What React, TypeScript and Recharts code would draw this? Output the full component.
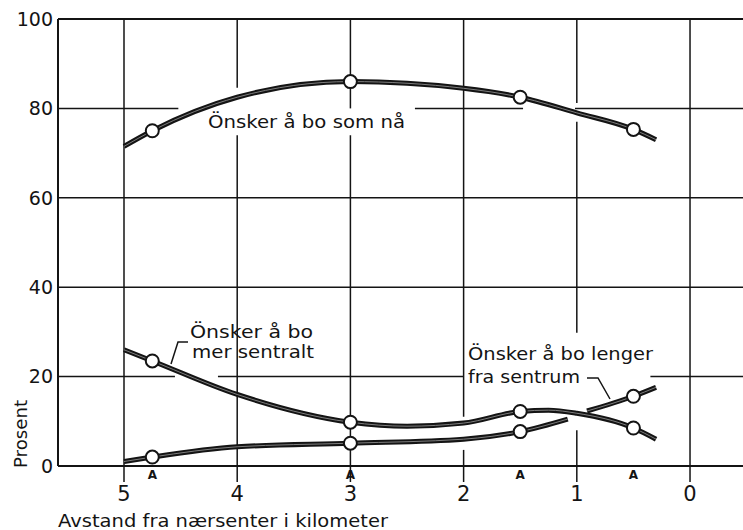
import React from 'react';
import {
  ComposedChart,
  Line,
  Scatter,
  XAxis,
  YAxis,
  ReferenceLine,
} from 'recharts';

// x axis runs from 5 km (left) to 0 km (right)
const X_MIN = -0.468;
const X_MAX = 5.583;
const KM_TICKS = [0, 1, 2, 3, 4, 5];
const PCT_TICKS = [0, 20, 40, 60, 80, 100];

// survey points (circles)
const SURVEY_KM = [4.75, 3, 1.5, 0.5];
const SOM_NA_PTS = [75, 86, 82.5, 75.3];
const SENTRALT_PTS = [23.5, 9.8, 12.2, 8.5];
const LENGER_PTS = [2, 5.1, 7.7, 15.6];

// drawn curves
const SOM_NA_KM = [5, 4.75, 4, 3, 2, 1.5, 1, 0.5, 0.3];
const SOM_NA_CURVE = [71.5, 75, 82.5, 86, 84.5, 82.5, 79, 75.3, 73];
const SENTRALT_KM = [5, 4.75, 4, 3, 2.5, 2, 1.5, 1.25, 1, 0.5, 0.3];
const SENTRALT_CURVE = [26, 23.5, 16, 9.8, 8.9, 9.6, 12.2, 12.5, 11.8, 8.5, 6];
const LENGER_KM = [5, 4.75, 4, 3, 2, 1.5, 1.08, 1, 0.91, 0.5, 0.3];
const LENGER_CURVE = [1, 2, 4.3, 5.1, 6, 7.7, 10.5, null, 12.3, 15.6, 17.6];

// grid pieces (gaps where the labels sit)
const H_GRID: [number, number, number][] = [
  [100, X_MAX, X_MIN],
  [80, X_MAX, 4.52], [80, 2.43, 1.475], [80, 1.016, X_MIN],
  [60, X_MAX, X_MIN],
  [40, X_MAX, X_MIN],
  [20, X_MAX, 4.55], [20, 4.17, 2.0], [20, 0.35, X_MIN],
];
const V_GRID: [number, number, number][] = [
  [5, 0, 100],
  [4, 0, 74], [4, 84.6, 100],
  [3, 0, 74], [3, 80, 100],
  [2, 0, 3.6], [2, 11, 100],
  [1, 0, 8], [1, 29.8, 77], [1, 81.2, 100],
  [0, 0, 100],
];

const INK = '#141414';
const FONT = '"DejaVu Sans", sans-serif';

const toRows = (xs: number[], ys: (number | null)[]) => xs.map((x, i) => ({ x, y: ys[i] }));

const somNa = toRows(SOM_NA_KM, SOM_NA_CURVE);
const sentralt = toRows(SENTRALT_KM, SENTRALT_CURVE);
const lenger = toRows(LENGER_KM, LENGER_CURVE);
const points = [
  ...toRows(SURVEY_KM, SOM_NA_PTS),
  ...toRows(SURVEY_KM, SENTRALT_PTS),
  ...toRows(SURVEY_KM, LENGER_PTS),
];
const marks = SURVEY_KM.map((x) => ({ x, y: 0 }));

const Dot = (p: any) => (
  <circle cx={p.cx} cy={p.cy} r={6.5} fill="#fff" stroke={INK} strokeWidth={2} />
);

const Mark = (p: any) => (
  <text x={p.cx} y={p.cy + 13} textAnchor="middle" fontSize={12} fontWeight="bold" fontFamily={FONT} fill={INK}>
    A
  </text>
);

const curve = (data: any[], key: string) => [
  <Line key={key + 'o'} data={data} dataKey="y" type="monotone" stroke={INK} strokeWidth={5} dot={false} isAnimationActive={false} />,
  <Line key={key + 'i'} data={data} dataKey="y" type="monotone" stroke="#8a8a8a" strokeWidth={0.9} dot={false} isAnimationActive={false} />,
];

export default function App() {
  return (
    <div style={{ position: 'absolute', left: 0, top: 0, width: 743, height: 530, background: '#fff' }}>
      <ComposedChart width={743} height={530} margin={{ top: 19, right: 0, bottom: 34, left: 0 }}>
        <XAxis
          dataKey="x"
          type="number"
          domain={[X_MIN, X_MAX]}
          allowDataOverflow
          reversed
          ticks={KM_TICKS}
          height={30}
          tickSize={16}
          tickMargin={4}
          axisLine={{ stroke: INK, strokeWidth: 2 }}
          tickLine={{ stroke: INK, strokeWidth: 1.5 }}
          tick={{ fontSize: 21, fill: INK, fontFamily: FONT }}
        />
        <YAxis
          dataKey="y"
          type="number"
          domain={[0, 100]}
          ticks={PCT_TICKS}
          width={58}
          tickSize={0}
          tickMargin={5}
          axisLine={{ stroke: INK, strokeWidth: 2 }}
          tickLine={false}
          tick={{ fontSize: 19, fill: INK, fontFamily: FONT }}
        />
        {H_GRID.map(([y, a, b], i) => (
          <ReferenceLine key={'h' + i} segment={[{ x: a, y }, { x: b, y }]} stroke={INK} strokeWidth={y === 100 ? 2 : 1.5} ifOverflow="visible" />
        ))}
        {V_GRID.map(([x, a, b], i) => (
          <ReferenceLine key={'v' + i} segment={[{ x, y: a }, { x, y: b }]} stroke={INK} strokeWidth={1.5} ifOverflow="visible" />
        ))}
        {curve(somNa, 'som')}
        {curve(sentralt, 'sen')}
        {curve(lenger, 'len')}
        <Scatter data={points} shape={Dot} isAnimationActive={false} />
        <Scatter data={marks} shape={Mark} isAnimationActive={false} />
      </ComposedChart>
      <svg width={743} height={530} style={{ position: 'absolute', left: 0, top: 0, pointerEvents: 'none' }}>
        <g fontFamily={FONT} fill={INK} fontSize={18}>
          <text x={208} y={128} textLength={197} lengthAdjust="spacingAndGlyphs">Önsker å bo som nå</text>
          <text x={190} y={338} textLength={123} lengthAdjust="spacingAndGlyphs">Önsker å bo</text>
          <text x={192} y={358} textLength={122} lengthAdjust="spacingAndGlyphs">mer sentralt</text>
          <text x={468} y={360} textLength={185} lengthAdjust="spacingAndGlyphs">Önsker å bo lenger</text>
          <text x={468} y={383} textLength={112} lengthAdjust="spacingAndGlyphs">fra sentrum</text>
          <text x={58} y={527} fontSize={18} textLength={330} lengthAdjust="spacingAndGlyphs">Avstand fra nærsenter i kilometer</text>
          <text transform="translate(27,434) rotate(-90)" textAnchor="middle" fontSize={17} textLength={68} lengthAdjust="spacingAndGlyphs">Prosent</text>
        </g>
        <polyline points="188,342 178,342 171,364" fill="none" stroke={INK} strokeWidth={1.5} />
        <polyline points="587,378 598,378 610,399" fill="none" stroke={INK} strokeWidth={1.5} />
      </svg>
    </div>
  );
}
